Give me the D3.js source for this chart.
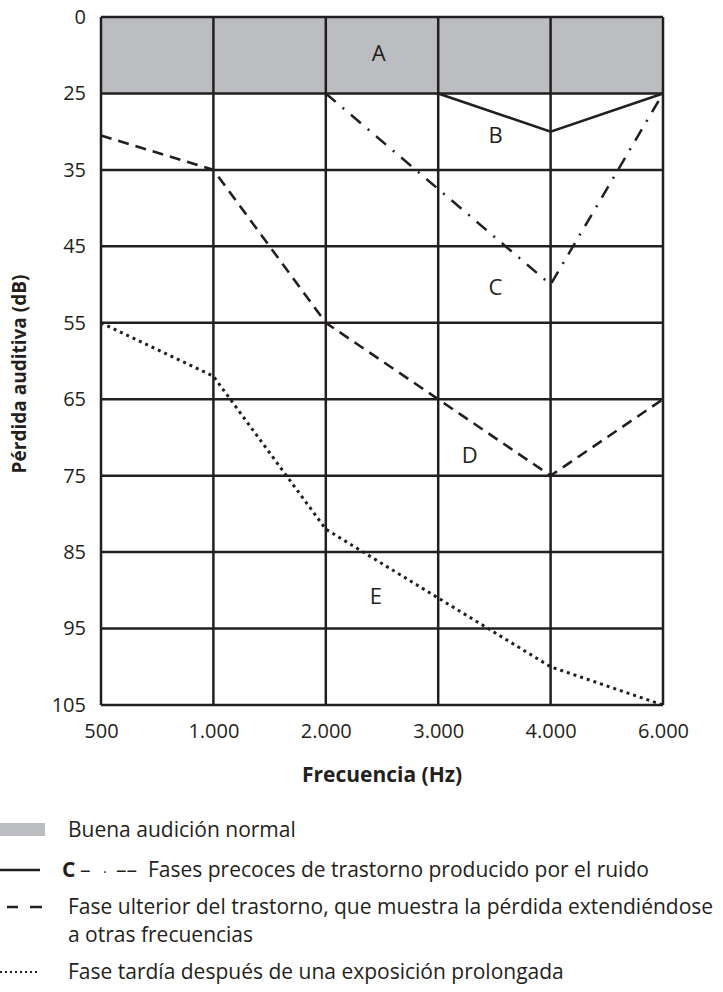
<!DOCTYPE html>
<html><head><meta charset="utf-8">
<script src="https://cdn.jsdelivr.net/npm/d3@7"></script>
<style>
body{margin:0;background:#fff;}
svg{display:block;font-family:"Open Sans","Noto Sans",sans-serif;}
</style></head>
<body><svg id="c" width="723" height="992"></svg>
<script>
const freqTicks = [500, 1000, 2000, 3000, 4000, 6000];
const freqLabels = ["500", "1.000", "2.000", "3.000", "4.000", "6.000"];
const dbTicks = [0, 25, 35, 45, 55, 65, 75, 85, 95, 105];
const normalBand = [0, 25];
const lineB = [[3000, 25], [4000, 30], [6000, 25]];
const lineC = [[2000, 25], [4000, 50], [6000, 25]];
const lineD = [[500, 30.5], [1000, 35], [2000, 55], [3000, 65], [4000, 75], [6000, 65]];
const lineE = [[500, 55], [1000, 62], [2000, 82], [3000, 91], [4000, 100], [6000, 105]];
const letters = [["A", 2470, 11.8], ["B", 3510, 30.5], ["C", 3510, 50.3], ["D", 3280, 72.3], ["E", 2445, 90.8]];

const svg = d3.select("#c");
const ink = "#231f20";
const L = 101, R = 663, T = 17, B = 705;
const x = d3.scaleLinear().domain(freqTicks)
  .range(freqTicks.map((d, i) => L + i * (R - L) / (freqTicks.length - 1)));
const y = d3.scaleLinear().domain(dbTicks)
  .range(dbTicks.map((d, i) => T + i * (B - T) / (dbTicks.length - 1)));

// normal hearing band
svg.append("rect").attr("x", x(500)).attr("y", y(normalBand[0]))
  .attr("width", x(6000) - x(500)).attr("height", y(normalBand[1]) - y(normalBand[0]))
  .attr("fill", "#bcbdc0");

// grid
svg.append("g").selectAll("line").data(dbTicks).join("line")
  .attr("x1", L).attr("x2", R).attr("y1", d => y(d)).attr("y2", d => y(d))
  .attr("stroke", ink).attr("stroke-width", 2.5);
svg.append("g").selectAll("line").data(freqTicks).join("line")
  .attr("x1", d => x(d)).attr("x2", d => x(d)).attr("y1", T).attr("y2", B)
  .attr("stroke", ink).attr("stroke-width", 2.5);

// axes labels
const yAxis = d3.axisLeft(y).tickValues(dbTicks).tickSize(0).tickPadding(15);
const gy = svg.append("g").attr("transform", `translate(${L},0)`).call(yAxis);
gy.select(".domain").remove();
gy.selectAll("text").attr("font-size", 20).attr("fill", ink).attr("font-family", "Open Sans");

const xAxis = d3.axisBottom(x).tickValues(freqTicks).tickFormat((d, i) => freqLabels[i]).tickSize(0).tickPadding(19);
const gx = svg.append("g").attr("transform", `translate(0,${B})`).call(xAxis);
gx.select(".domain").remove();
gx.selectAll("text").attr("font-size", 20).attr("fill", ink).attr("font-family", "Open Sans");

// series
const line = d3.line().x(d => x(d[0])).y(d => y(d[1]));
svg.append("path").attr("d", line(lineB)).attr("fill", "none").attr("stroke", ink).attr("stroke-width", 2.6);
svg.append("path").attr("d", line(lineC)).attr("fill", "none").attr("stroke", ink).attr("stroke-width", 2.5)
  .attr("stroke-dasharray", "13,9,2,9");
svg.append("path").attr("d", line(lineD)).attr("fill", "none").attr("stroke", ink).attr("stroke-width", 2.6)
  .attr("stroke-dasharray", "11,7");
svg.append("path").attr("d", line(lineE)).attr("fill", "none").attr("stroke", ink).attr("stroke-width", 3)
  .attr("stroke-dasharray", "3,4");

// letters
svg.append("g").selectAll("text").data(letters).join("text")
  .attr("x", d => x(d[1])).attr("y", d => y(d[2]))
  .attr("dy", "0.35em").attr("text-anchor", "middle")
  .attr("font-size", 22).attr("fill", ink).text(d => d[0]);

// axis titles
svg.append("text").attr("x", (L + R) / 2).attr("y", 775).attr("dy", "0.35em")
  .attr("text-anchor", "middle").attr("font-weight", "bold").attr("font-size", 21)
  .attr("fill", ink).text("Frecuencia (Hz)");
svg.append("text").attr("transform", "translate(19,374) rotate(-90)").attr("dy", "0.35em")
  .attr("text-anchor", "middle").attr("font-weight", "bold").attr("font-size", 19)
  .attr("fill", ink).text("Pérdida auditiva (dB)");

// legend
const lg = svg.append("g").attr("fill", ink).attr("font-size", 21);
lg.append("rect").attr("x", 0).attr("y", 823).attr("width", 45).attr("height", 13).attr("fill", "#bcbdc0");
lg.append("text").attr("x", 68).attr("y", 830).attr("dy", "0.35em").text("Buena audición normal");

lg.append("line").attr("x1", 0).attr("x2", 40).attr("y1", 870).attr("y2", 870).attr("stroke", ink).attr("stroke-width", 2.5);
const t2 = lg.append("text").attr("y", 870).attr("dy", "0.35em");
t2.append("tspan").attr("x", 62).attr("font-weight", "bold").text("C");
t2.append("tspan").attr("x", 80).text("–");
t2.append("tspan").attr("x", 103).attr("font-size", 14).text("·");
t2.append("tspan").attr("x", 116).text("––");
t2.append("tspan").attr("x", 148).text("Fases precoces de trastorno producido por el ruido");

lg.append("line").attr("x1", 0).attr("x2", 42).attr("y1", 907).attr("y2", 907).attr("stroke", ink).attr("stroke-width", 2.5)
  .attr("stroke-dasharray", "0,7,11,12,12");
lg.append("text").attr("x", 68).attr("y", 907).attr("dy", "0.35em").text("Fase ulterior del trastorno, que muestra la pérdida extendiéndose");
lg.append("text").attr("x", 68).attr("y", 935).attr("dy", "0.35em").text("a otras frecuencias");

lg.append("line").attr("x1", 0).attr("x2", 40).attr("y1", 972).attr("y2", 972).attr("stroke", ink).attr("stroke-width", 2)
  .attr("stroke-dasharray", "2,3");
lg.append("text").attr("x", 68).attr("y", 972).attr("dy", "0.35em").text("Fase tardía después de una exposición prolongada");
</script></body></html>
